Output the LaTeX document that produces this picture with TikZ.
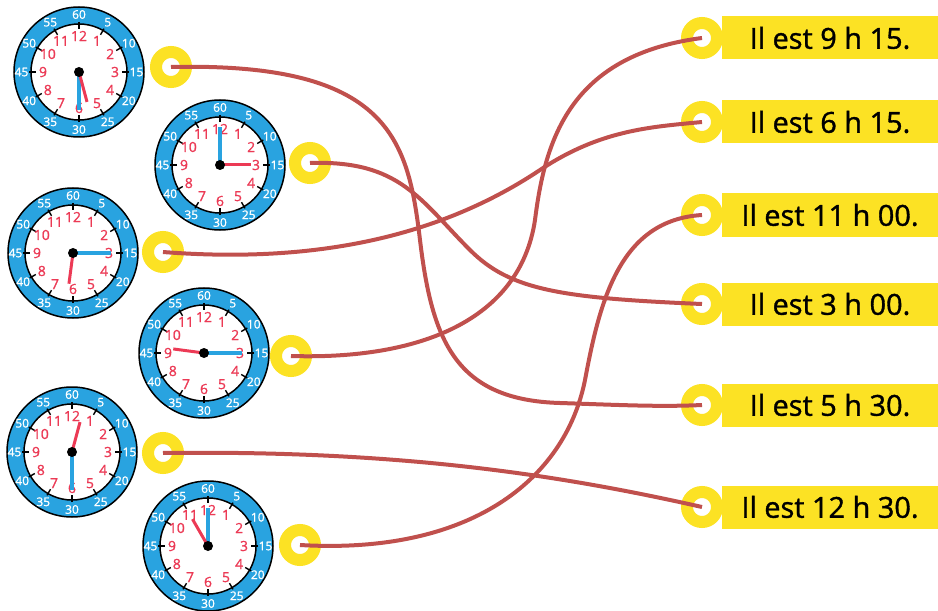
\documentclass[tikz,border=0pt]{standalone}
\usepackage{fontspec}
\setmainfont{Open Sans}
\newfontfamily\grasse[FakeBold=1.2]{Open Sans}

\definecolor{bleu}{RGB}{41,163,224}
\definecolor{rouge}{RGB}{236,58,85}
\definecolor{jaune}{RGB}{252,226,36}
\definecolor{brique}{RGB}{192,80,77}

\begin{document}
\begin{tikzpicture}[x=1bp,y=-1bp]
	\tikzstyle{cadran}=[circle,draw,line width=1.5bp,fill=bleu,minimum size=130bp,inner sep=0pt]
	\tikzstyle{trou}=[circle,draw=jaune,line width=12bp,fill=white,minimum size=30bp,inner sep=0pt]
	\tikzstyle{etiquette}=[fill=jaune,minimum width=216bp,minimum height=43bp,inner sep=0pt,font=\grasse\fontsize{29}{29}\selectfont]
	\tikzstyle{fil}=[draw=brique,line width=4bp]
	\tikzstyle{heure}=[text=rouge,inner sep=0pt,font=\grasse\fontsize{14}{14}\selectfont]
	\tikzstyle{minute}=[text=white,inner sep=0pt,font=\grasse\fontsize{12}{12}\selectfont]
	\useasboundingbox (0,0) rectangle (938,611);
	% les horloges : numero / centre / aiguille des heures / aiguille des minutes
	\foreach \n/\x/\y/\hh/\mm in {1/79/72/165/180, 2/220/165/90/0, 3/73/253/187.5/90,
		4/204/353/277.5/90, 5/72/452/15/180, 6/208/546/330/0}{
		\node[cadran] (h\n) at (\x,\y) {};
		\begin{scope}[shift={(\x,\y)}]
			\draw[line width=1.5bp,fill=white] (0,0) circle (48bp);
			\foreach \k in {1,...,12}{
				\pgfmathtruncatemacro\mn{5*\k}
				\draw[line width=1.4bp] (90-30*\k:50bp) -- (90-30*\k:43bp);
				\node[heure] at (90-30*\k:36bp) {\k};
				\node[minute] at (90-30*\k:57.5bp) {\mn};
			}
			\draw[bleu,line width=3.5bp] (0,0) -- (90-\mm:38bp);
			\draw[rouge,line width=3bp] (0,0) -- (90-\hh:31bp);
			\fill (0,0) circle (5bp);
		\end{scope}
	}
	% les anneaux des horloges
	\foreach \n/\x/\y in {1/171/67, 2/310/163, 3/163/252, 4/291/356, 5/163/453, 6/300/545}
		\node[trou] (a\n) at (\x,\y) {};
	% les etiquettes
	\foreach \n/\y/\t in {1/38/9 h 15, 2/122/6 h 15, 3/215/11 h 00, 4/304/3 h 00,
		5/405/5 h 30, 6/507/12 h 30}{
		\node[etiquette] (e\n) at (830,\y) {Il est \t.};
		\node[trou] (b\n) at (702,\y) {};
	}
	% les fils
	\draw[fil] (a1.center) .. controls (390,62) and (408,140) .. (420,240)
		.. controls (432,340) and (455,400) .. (560,403)
		.. controls (620,405) and (660,407) .. (b5.center);
	\draw[fil] (a2.center) .. controls (400,160) and (420,200) .. (470,250)
		.. controls (510,290) and (560,298) .. (b4.center);
	\draw[fil] (a3.center) .. controls (330,265) and (450,230) .. (540,170)
		.. controls (600,130) and (650,127) .. (b2.center);
	\draw[fil] (a4.center) .. controls (420,360) and (520,320) .. (535,220)
		.. controls (545,140) and (570,55) .. (b1.center);
	\draw[fil] (a5.center) .. controls (400,450) and (560,475) .. (b6.center);
	\draw[fil] (a6.center) .. controls (470,555) and (565,480) .. (585,380)
		.. controls (600,300) and (620,220) .. (b3.center);
\end{tikzpicture}
\end{document}
